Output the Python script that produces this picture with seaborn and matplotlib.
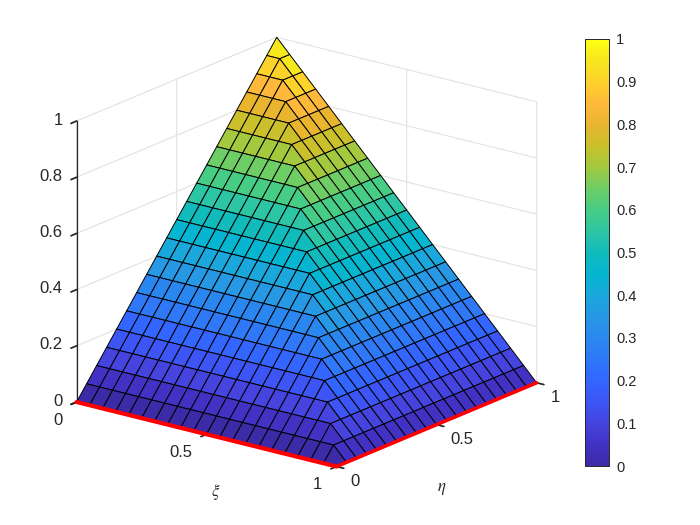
import numpy as np
import matplotlib
matplotlib.use("Agg")
import matplotlib.pyplot as plt
from mpl_toolkits.mplot3d import proj3d
import seaborn as sns

xi_nodes = [0, .05, .1, .15, .2, .25, .3, .35, .4, .45, .5, .55, .6, .65, .7, .75, .8, .85, .9, .95, 1]
eta_nodes = [0, .05, .1, .15, .2, .25, .3, .35, .4, .45, .5, .55, .6, .65, .7, .75, .8, .85, .9, .95, 1]

# height of the surface, one row per eta node, one column per xi node
surface_z = [
    [0, 0, 0, 0, 0, 0, 0, 0, 0, 0, 0, 0, 0, 0, 0, 0, 0, 0, 0, 0, 0],
    [.05, .05, .05, .05, .05, .05, .05, .05, .05, .05, .05, .05, .05, .05, .05, .05, .05, .05, .05, .05, 0],
    [.1, .1, .1, .1, .1, .1, .1, .1, .1, .1, .1, .1, .1, .1, .1, .1, .1, .1, .1, .05, 0],
    [.15, .15, .15, .15, .15, .15, .15, .15, .15, .15, .15, .15, .15, .15, .15, .15, .15, .15, .1, .05, 0],
    [.2, .2, .2, .2, .2, .2, .2, .2, .2, .2, .2, .2, .2, .2, .2, .2, .2, .15, .1, .05, 0],
    [.25, .25, .25, .25, .25, .25, .25, .25, .25, .25, .25, .25, .25, .25, .25, .25, .2, .15, .1, .05, 0],
    [.3, .3, .3, .3, .3, .3, .3, .3, .3, .3, .3, .3, .3, .3, .3, .25, .2, .15, .1, .05, 0],
    [.35, .35, .35, .35, .35, .35, .35, .35, .35, .35, .35, .35, .35, .35, .3, .25, .2, .15, .1, .05, 0],
    [.4, .4, .4, .4, .4, .4, .4, .4, .4, .4, .4, .4, .4, .35, .3, .25, .2, .15, .1, .05, 0],
    [.45, .45, .45, .45, .45, .45, .45, .45, .45, .45, .45, .45, .4, .35, .3, .25, .2, .15, .1, .05, 0],
    [.5, .5, .5, .5, .5, .5, .5, .5, .5, .5, .5, .45, .4, .35, .3, .25, .2, .15, .1, .05, 0],
    [.55, .55, .55, .55, .55, .55, .55, .55, .55, .55, .5, .45, .4, .35, .3, .25, .2, .15, .1, .05, 0],
    [.6, .6, .6, .6, .6, .6, .6, .6, .6, .55, .5, .45, .4, .35, .3, .25, .2, .15, .1, .05, 0],
    [.65, .65, .65, .65, .65, .65, .65, .65, .6, .55, .5, .45, .4, .35, .3, .25, .2, .15, .1, .05, 0],
    [.7, .7, .7, .7, .7, .7, .7, .65, .6, .55, .5, .45, .4, .35, .3, .25, .2, .15, .1, .05, 0],
    [.75, .75, .75, .75, .75, .75, .7, .65, .6, .55, .5, .45, .4, .35, .3, .25, .2, .15, .1, .05, 0],
    [.8, .8, .8, .8, .8, .75, .7, .65, .6, .55, .5, .45, .4, .35, .3, .25, .2, .15, .1, .05, 0],
    [.85, .85, .85, .85, .8, .75, .7, .65, .6, .55, .5, .45, .4, .35, .3, .25, .2, .15, .1, .05, 0],
    [.9, .9, .9, .85, .8, .75, .7, .65, .6, .55, .5, .45, .4, .35, .3, .25, .2, .15, .1, .05, 0],
    [.95, .95, .9, .85, .8, .75, .7, .65, .6, .55, .5, .45, .4, .35, .3, .25, .2, .15, .1, .05, 0],
    [1, .95, .9, .85, .8, .75, .7, .65, .6, .55, .5, .45, .4, .35, .3, .25, .2, .15, .1, .05, 0],
]

axis_ticks = [0, 0.5, 1]
axis_tick_labels = ["0", "0.5", "1"]
z_ticks = [0, 0.2, 0.4, 0.6, 0.8, 1]
z_tick_labels = ["0", "0.2", "0.4", "0.6", "0.8", "1"]
cbar_ticks = [0, .1, .2, .3, .4, .5, .6, .7, .8, .9, 1]
cbar_tick_labels = ["0", "0.1", "0.2", "0.3", "0.4", "0.5", "0.6", "0.7", "0.8", "0.9", "1"]

bar_colors = ["#3c2aa6", "#4232c5", "#4545e0", "#3d55f5", "#3366ff", "#2f78f8", "#2b88f0",
              "#2698e4", "#1aa8dc", "#06b6d0", "#10bbbd", "#2ec6a3", "#47cc85", "#6dcd66",
              "#a2c940", "#c9c12b", "#e9b52f", "#ffb93a", "#fdd12c", "#f6e61e", "#ffff14"]

sns.set_theme(style="white", font="Liberation Sans", rc={
    "text.color": "#262626",
    "xtick.color": "#262626",
    "ytick.color": "#262626",
    "axes.labelcolor": "#262626",
    "grid.color": "#e2e2e2",
    "grid.linewidth": 0.8,
    "mathtext.fontset": "stix",
})

cmap = sns.blend_palette(bar_colors, n_colors=256, as_cmap=True)

fig = plt.figure(figsize=(7, 5.25), dpi=100)
fig.patch.set_facecolor("white")

# square 3d axes, centred on the middle of the box, bigger than the figure height
ax = fig.add_axes([-1.5 / 700, -35 / 525, 600 / 700, 600 / 525], projection="3d", proj_type="ortho")
ax.view_init(elev=18.8, azim=-52.4)
ax.set_box_aspect((1, 1, 0.905), zoom=0.891)
ax.computed_zorder = False
ax.patch.set_alpha(0)

xi_grid, eta_grid = np.meshgrid(xi_nodes, eta_nodes)
z_grid = np.array(surface_z)
ax.plot_surface(xi_grid, eta_grid, z_grid, facecolors=cmap(z_grid), shade=False,
                rstride=1, cstride=1, edgecolor="black", linewidth=0.7,
                antialiased=True, zorder=1)

# red edges on z = 0
ax.plot(xi_nodes, [eta_nodes[0]] * len(xi_nodes), [0] * len(xi_nodes), color="red", lw=3, zorder=3)
ax.plot([xi_nodes[-1]] * len(eta_nodes), eta_nodes, [0] * len(eta_nodes), color="red", lw=2.6, zorder=3)

ax.set_xlim(0, 1)
ax.set_ylim(0, 1)
ax.set_zlim(0, 1)
ax.set_xticks(axis_ticks)
ax.set_yticks(axis_ticks)
ax.set_zticks(z_ticks)
ax.set_xticklabels([])
ax.set_yticklabels([])
ax.set_zticklabels([])

for axis in [ax.xaxis, ax.yaxis, ax.zaxis]:
    axis.set_pane_color((1, 1, 1, 0))
    axis.pane.set_edgecolor("#e2e2e2")
    axis.line.set_color("#262626")
    axis.line.set_linewidth(0.9)
    axis._axinfo["tick"]["inward_factor"] = 0.35
    axis._axinfo["tick"]["outward_factor"] = 0
ax.zaxis.set_ticks_position("lower")
ax.grid(True)


def tick_text(label, x, y, z, dx, dy, ha):
    # label next to the projected tick, offsets in pixels
    px, py, _ = proj3d.proj_transform(x, y, z, ax.get_proj())
    ax.annotate(label, (px, py), xytext=(dx * 0.72, dy * 0.72), textcoords="offset points",
                ha=ha, va="center", fontsize=12, color="#262626", annotation_clip=False)


for tick, label in zip(axis_ticks, axis_tick_labels):
    tick_text(label, tick, 0, 0, -14, -18, "right")
    tick_text(label, 1, tick, 0, 14, -15, "left")
for tick, label in zip(z_ticks, z_tick_labels):
    tick_text(label, 0, 0, tick, -14, 1, "right")

fig.text(216 / 700, 1 - 492 / 525, r"$\xi$", fontsize=12, ha="center", va="center")
fig.text(442 / 700, 1 - 489 / 525, r"$\eta$", fontsize=12, ha="center", va="center")

# colorbar
cax = fig.add_axes([585 / 700, (525 - 466) / 525, 24 / 700, 427 / 525])
sm = plt.cm.ScalarMappable(norm=plt.Normalize(0, 1), cmap=cmap)
cbar = fig.colorbar(sm, cax=cax)
cbar.set_ticks(cbar_ticks, labels=cbar_tick_labels)
cbar.ax.tick_params(labelsize=10.5, direction="in", length=3, width=0.6, pad=5)
cbar.outline.set_edgecolor("#262626")
cbar.outline.set_linewidth(0.7)

fig.savefig("out.png", dpi=100)
